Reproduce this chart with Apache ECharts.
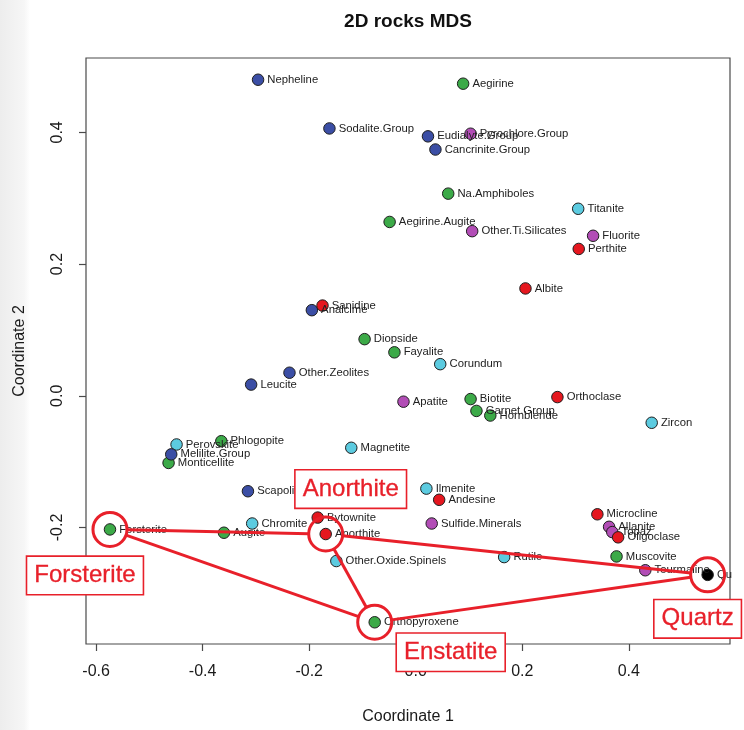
<!DOCTYPE html>
<html>
<head>
<meta charset="utf-8">
<script src="https://cdn.jsdelivr.net/npm/echarts@6/dist/echarts.min.js"></script>
<style>
  html, body { margin: 0; padding: 0; background: #fff; }
  #chart { width: 744px; height: 730px; }
</style>
</head>
<body>
<div id="chart"></div>
<script>
// Mineral names with their two MDS coordinates and colour family
const names = [
  'Nepheline', 'Sodalite.Group', 'Eudialyte.Group', 'Cancrinite.Group', 'Analcime',
  'Other.Zeolites', 'Leucite', 'Perovskite', 'Monticellite', 'Melilite.Group', 'Scapolite',
  'Aegirine', 'Na.Amphiboles', 'Aegirine.Augite', 'Diopside', 'Fayalite',
  'Biotite', 'Hornblende', 'Garnet.Group', 'Phlogopite', 'Forsterite', 'Augite',
  'Orthopyroxene', 'Muscovite',
  'Sanidine', 'Perthite', 'Albite', 'Orthoclase', 'Andesine', 'Bytownite', 'Anorthite',
  'Microcline', 'Pyrochlore.Group', 'Other.Ti.Silicates', 'Fluorite', 'Apatite',
  'Sulfide.Minerals', 'Allanite', 'Topaz', 'Oligoclase', 'Tourmaline',
  'Titanite', 'Corundum', 'Zircon', 'Magnetite', 'Ilmenite', 'Chromite',
  'Other.Oxide.Spinels', 'Rutile', 'Quartz'
];
const coord1 = [
  -0.296, -0.162, 0.023, 0.037, -0.195,
  -0.237, -0.309, -0.449, -0.464, -0.459, -0.315,
  0.089, 0.061, -0.049, -0.096, -0.040,
  0.103, 0.140, 0.114, -0.365, -0.574, -0.360,
  -0.077, 0.377,
  -0.175, 0.306, 0.206, 0.266, 0.044, -0.184, -0.169,
  0.341, 0.103, 0.106, 0.333, -0.023,
  0.030, 0.363, 0.369, 0.380, 0.431,
  0.305, 0.046, 0.443, -0.121, 0.020, -0.307,
  -0.149, 0.166, 0.548
];
const coord2 = [
  0.480, 0.406, 0.394, 0.374, 0.130,
  0.035, 0.017, -0.074, -0.102, -0.089, -0.145,
  0.474, 0.307, 0.264, 0.086, 0.066,
  -0.005, -0.030, -0.023, -0.069, -0.203, -0.208,
  -0.344, -0.244,
  0.137, 0.223, 0.163, -0.002, -0.158, -0.185, -0.210,
  -0.180, 0.398, 0.250, 0.243, -0.009,
  -0.194, -0.199, -0.207, -0.215, -0.265,
  0.284, 0.048, -0.041, -0.079, -0.141, -0.194,
  -0.251, -0.245, -0.272
];
const family = [
  'blue', 'blue', 'blue', 'blue', 'blue',
  'blue', 'blue', 'cyan', 'green', 'blue', 'blue',
  'green', 'green', 'green', 'green', 'green',
  'green', 'green', 'green', 'green', 'green', 'green',
  'green', 'green',
  'red', 'red', 'red', 'red', 'red', 'red', 'red',
  'red', 'magenta', 'magenta', 'magenta', 'magenta',
  'magenta', 'magenta', 'magenta', 'red', 'magenta',
  'cyan', 'cyan', 'cyan', 'cyan', 'cyan', 'cyan',
  'cyan', 'cyan', 'black'
];
const familyColors = {
  blue: '#3b4ea5', green: '#3caa48', red: '#e5171f',
  magenta: '#b24db6', cyan: '#5ccbe0', black: '#000000'
};

// Axis ranges and tick values
const xRange = [-0.619, 0.590];
const yRange = [-0.377, 0.513];
const xTicks = [-0.6, -0.4, -0.2, 0.0, 0.2, 0.4];
const yTicks = [-0.2, 0.0, 0.2, 0.4];

// Highlighted minerals, the titles shown in their boxes, and the links between them
const ringMinerals = ['Forsterite', 'Anorthite', 'Orthopyroxene', 'Quartz'];
const ringTitles = ['Forsterite', 'Anorthite', 'Enstatite', 'Quartz'];
const ringLinks = [
  ['Forsterite', 'Anorthite'],
  ['Anorthite', 'Quartz'],
  ['Forsterite', 'Orthopyroxene'],
  ['Anorthite', 'Orthopyroxene'],
  ['Orthopyroxene', 'Quartz']
];

const ACCENT = '#e8202a';
const FONT = '"Liberation Sans", Arial, Helvetica, sans-serif';
const RING_R = 17;
// pixel offset of each title box from its ring centre
const boxOffsets = [[-25, 46], [25, -45], [76, 30], [-10, 44]];

const pointOf = n => { const i = names.indexOf(n); return [coord1[i], coord2[i]]; };

const pointData = names.map((n, i) => ({
  name: n,
  value: [coord1[i], coord2[i]],
  itemStyle: { color: familyColors[family[i]] }
}));

const ringData = ringMinerals.map(n => pointOf(n));
const linkData = ringLinks.map(([a, b]) => pointOf(a).concat(pointOf(b)));

const chart = echarts.init(document.getElementById('chart'), null, { renderer: 'canvas' });

const option = {
  animation: false,
  backgroundColor: '#ffffff',
  textStyle: { fontFamily: FONT },
  graphic: [{
    type: 'rect', left: 0, top: 0, z: -10, silent: true,
    shape: { width: 30, height: 730 },
    style: {
      fill: new echarts.graphic.LinearGradient(0, 0, 1, 0, [
        { offset: 0, color: '#ededed' }, { offset: 0.8, color: '#f6f6f6' }, { offset: 1, color: '#ffffff' }
      ])
    }
  }],
  title: {
    text: '2D rocks MDS',
    left: 403, top: 7, textAlign: 'center',
    textStyle: { fontFamily: FONT, fontWeight: 'bold', fontSize: 19, color: '#111' }
  },
  grid: {
    left: 86, right: 14, top: 58, bottom: 84,
    show: true, borderColor: '#4a4a4a', borderWidth: 1.2, backgroundColor: 'transparent'
  },
  xAxis: {
    type: 'value', min: xRange[0], max: xRange[1],
    name: 'Coordinate 1', nameLocation: 'middle', nameGap: 65,
    nameTextStyle: { fontFamily: FONT, fontSize: 16, color: '#1a1a1a' },
    axisLine: { show: false, onZero: false },
    splitLine: { show: false },
    axisTick: { show: true, length: 7, customValues: xTicks, lineStyle: { color: '#4a4a4a', width: 1.2 } },
    axisLabel: {
      customValues: xTicks, margin: 20, fontFamily: FONT, fontSize: 16, color: '#1a1a1a',
      formatter: v => v.toFixed(1)
    }
  },
  yAxis: {
    type: 'value', min: yRange[0], max: yRange[1],
    name: 'Coordinate 2', nameLocation: 'middle', nameGap: 58, nameRotate: 90,
    nameTextStyle: { fontFamily: FONT, fontSize: 16, color: '#1a1a1a' },
    axisLine: { show: false, onZero: false },
    splitLine: { show: false },
    axisTick: { show: true, length: 7, customValues: yTicks, lineStyle: { color: '#4a4a4a', width: 1.2 } },
    axisLabel: {
      customValues: yTicks, margin: 20, rotate: 90, fontFamily: FONT, fontSize: 16, color: '#1a1a1a',
      formatter: v => v.toFixed(1)
    }
  },
  series: [
    {
      id: 'pts',
      type: 'scatter',
      symbol: 'circle',
      symbolSize: 11.5,
      z: 2,
      itemStyle: { borderColor: '#1e1e1e', borderWidth: 1, opacity: 1 },
      label: {
        show: true, position: 'right', distance: 3,
        formatter: p => p.name,
        fontFamily: FONT, fontSize: 11.3, color: '#222'
      },
      labelLayout: { hideOverlap: false },
      emphasis: { disabled: true },
      data: pointData
    },
    {
      id: 'links',
      type: 'custom',
      z: 5,
      silent: true,
      renderItem: (params, api) => {
        const a = api.coord([api.value(0), api.value(1)]);
        const b = api.coord([api.value(2), api.value(3)]);
        const dx = b[0] - a[0], dy = b[1] - a[1];
        const len = Math.sqrt(dx * dx + dy * dy);
        const ux = dx / len, uy = dy / len;
        return {
          type: 'line',
          shape: {
            x1: a[0] + ux * RING_R, y1: a[1] + uy * RING_R,
            x2: b[0] - ux * RING_R, y2: b[1] - uy * RING_R
          },
          style: { stroke: ACCENT, lineWidth: 3 }
        };
      },
      encode: { x: [0, 2], y: [1, 3] },
      data: linkData
    },
    {
      id: 'rings',
      type: 'custom',
      z: 6,
      silent: true,
      renderItem: (params, api) => {
        const c = api.coord([api.value(0), api.value(1)]);
        const off = boxOffsets[params.dataIndex];
        return {
          type: 'group',
          children: [
            {
              type: 'circle',
              shape: { cx: c[0], cy: c[1], r: RING_R },
              style: { fill: 'none', stroke: ACCENT, lineWidth: 3 }
            },
            {
              type: 'text',
              x: c[0] + off[0], y: c[1] + off[1],
              style: {
                text: ringTitles[params.dataIndex],
                fill: ACCENT,
                stroke: ACCENT, lineWidth: 0.3,
                fontFamily: FONT, fontSize: 24,
                align: 'center', verticalAlign: 'middle',
                backgroundColor: '#ffffff',
                borderColor: ACCENT, borderWidth: 1.6,
                padding: [7, 7, 6, 7]
              }
            }
          ]
        };
      },
      encode: { x: 0, y: 1 },
      data: ringData
    }
  ]
};

chart.setOption(option);

// Labels are clipped at the right edge of the plotting box
const rightEdge = chart.convertToPixel({ gridIndex: 0 }, [xRange[1], 0])[0];
const clipped = pointData.map(d => {
  const px = chart.convertToPixel({ gridIndex: 0 }, d.value)[0];
  const room = rightEdge - (px + 5.75 + 3) + 4;
  if (room < 90) {
    return Object.assign({}, d, { label: { width: Math.max(room, 0), overflow: 'truncate', ellipsis: '' } });
  }
  return d;
});
chart.setOption({ series: [{ id: 'pts', data: clipped }] });
</script>
</body>
</html>
